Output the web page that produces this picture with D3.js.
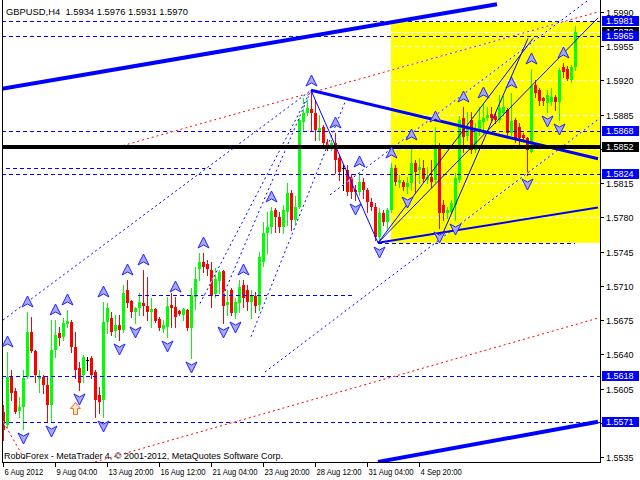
<!DOCTYPE html>
<html><head><meta charset="utf-8">
<script src="https://cdn.jsdelivr.net/npm/d3@7"></script>
<style>
body{margin:0;background:#fff;}
svg{display:block;}
text{font-family:"Liberation Sans",Arial,sans-serif;}
</style>
</head><body>
<svg id="chart" width="640" height="480"></svg>
<script>
// ---------------- DATA ----------------
const symbolTitle = "GBPUSD,H4";
const lastBar = [1.5934, 1.5976, 1.5931, 1.5970];
const openP = [1.5581,1.5568,1.5618,1.5602,1.5582,1.5586,1.5617,1.5663,1.5643,1.5615,
1.5617,1.5609,1.5588,1.5644,1.5662,1.5658,1.5671,1.5673,1.5647,1.5626,
1.5619,1.5634,1.5636,1.5622,1.5598,1.5593,1.5673,1.5677,1.5664,1.5670,
1.5665,1.5706,1.5694,1.5683,1.5687,1.5692,1.5689,1.5683,1.5686,1.5676,
1.5666,1.5668,1.5690,1.5688,1.5684,1.5680,1.5685,1.5667,1.5699,1.5727,
1.5734,1.5732,1.5726,1.5702,1.5715,1.5725,1.5690,1.5706,1.5682,1.5692,
1.5711,1.5706,1.5693,1.5700,1.5690,1.5734,1.5764,1.5770,1.5788,1.5780,
1.5770,1.5785,1.5805,1.5777,1.5791,1.5878,1.5887,1.5891,1.5887,1.5867,
1.5872,1.5857,1.5853,1.5856,1.5841,1.5830,1.5828,1.5821,1.5808,1.5806,
1.5816,1.5808,1.5796,1.5791,1.5760,1.5784,1.5775,1.5788,1.5830,1.5815,
1.5816,1.5811,1.5815,1.5836,1.5828,1.5830,1.5818,1.5821,1.5818,1.5854,
1.5793,1.5784,1.5785,1.5793,1.5818,1.5882,1.5863,1.5880,1.5849,1.5869,
1.5878,1.5882,1.5886,1.5884,1.5880,1.5887,1.5890,1.5866,1.5880,1.5872,
1.5864,1.5861,1.5847,1.5915,1.5910,1.5902,1.5897,1.5898,1.5903,1.5898,
1.5934,1.5932,1.5920,1.5934];
const highP = [1.5588,1.5642,1.5624,1.5606,1.5596,1.5624,1.5683,1.5678,1.5644,1.5624,
1.5619,1.5617,1.5675,1.5675,1.5668,1.5677,1.5685,1.5675,1.5663,1.5632,
1.5639,1.5637,1.5638,1.5624,1.5607,1.5693,1.5692,1.5683,1.5680,1.5680,
1.5711,1.5716,1.5696,1.5688,1.5703,1.5726,1.5719,1.5698,1.5687,1.5678,
1.5675,1.5699,1.5703,1.5699,1.5685,1.5687,1.5686,1.5708,1.5729,1.5744,
1.5744,1.5736,1.5734,1.5728,1.5726,1.5726,1.5706,1.5708,1.5698,1.5716,
1.5716,1.5711,1.5706,1.5704,1.5745,1.5775,1.5785,1.5791,1.5790,1.5785,
1.5793,1.5815,1.5808,1.5802,1.5882,1.5902,1.5905,1.5909,1.5900,1.5885,
1.5874,1.5860,1.5859,1.5866,1.5844,1.5834,1.5834,1.5824,1.5813,1.5826,
1.5820,1.5810,1.5800,1.5795,1.5790,1.5788,1.5790,1.5836,1.5834,1.5823,
1.5818,1.5821,1.5854,1.5839,1.5841,1.5839,1.5832,1.5839,1.5872,1.5856,
1.5798,1.5791,1.5798,1.5825,1.5884,1.5893,1.5888,1.5888,1.5876,1.5893,
1.5897,1.5893,1.5893,1.5888,1.5905,1.5904,1.5892,1.5907,1.5882,1.5876,
1.5866,1.5862,1.5932,1.5920,1.5912,1.5903,1.5910,1.5912,1.5905,1.5933,
1.5938,1.5935,1.5936,1.5976];
const lowP = [1.5552,1.5565,1.5593,1.5580,1.5576,1.5564,1.5616,1.5642,1.5612,1.5601,
1.5600,1.5571,1.5571,1.5637,1.5650,1.5655,1.5668,1.5642,1.5616,1.5603,
1.5612,1.5624,1.5616,1.5576,1.5580,1.5576,1.5662,1.5660,1.5658,1.5655,
1.5663,1.5688,1.5678,1.5672,1.5680,1.5680,1.5675,1.5668,1.5673,1.5665,
1.5663,1.5658,1.5668,1.5668,1.5680,1.5675,1.5665,1.5636,1.5686,1.5716,
1.5724,1.5721,1.5688,1.5699,1.5703,1.5672,1.5680,1.5680,1.5677,1.5683,
1.5688,1.5685,1.5677,1.5683,1.5685,1.5730,1.5744,1.5764,1.5765,1.5765,
1.5764,1.5772,1.5767,1.5772,1.5790,1.5869,1.5885,1.5869,1.5859,1.5859,
1.5854,1.5849,1.5849,1.5825,1.5818,1.5808,1.5803,1.5800,1.5798,1.5803,
1.5800,1.5785,1.5788,1.5757,1.5754,1.5772,1.5769,1.5785,1.5813,1.5811,
1.5808,1.5805,1.5808,1.5805,1.5815,1.5816,1.5815,1.5811,1.5816,1.5769,
1.5777,1.5779,1.5784,1.5777,1.5816,1.5847,1.5859,1.5846,1.5847,1.5864,
1.5866,1.5880,1.5880,1.5876,1.5878,1.5885,1.5864,1.5864,1.5857,1.5852,
1.5859,1.5823,1.5847,1.5903,1.5895,1.5895,1.5888,1.5895,1.5890,1.5880,
1.5924,1.5920,1.5918,1.5931];
const closeP = [1.5563,1.5617,1.5600,1.5581,1.5586,1.5616,1.5663,1.5643,1.5619,1.5617,
1.5609,1.5588,1.5644,1.5660,1.5657,1.5672,1.5674,1.5647,1.5624,1.5611,
1.5637,1.5634,1.5619,1.5593,1.5591,1.5673,1.5687,1.5663,1.5670,1.5665,
1.5703,1.5692,1.5683,1.5687,1.5693,1.5689,1.5683,1.5686,1.5674,1.5667,
1.5670,1.5689,1.5687,1.5678,1.5681,1.5686,1.5667,1.5701,1.5717,1.5734,
1.5729,1.5727,1.5700,1.5717,1.5724,1.5689,1.5693,1.5682,1.5693,1.5709,
1.5698,1.5693,1.5701,1.5689,1.5739,1.5764,1.5770,1.5787,1.5780,1.5770,
1.5788,1.5805,1.5777,1.5791,1.5880,1.5887,1.5892,1.5887,1.5869,1.5871,
1.5856,1.5854,1.5856,1.5839,1.5826,1.5830,1.5806,1.5806,1.5806,1.5816,
1.5808,1.5796,1.5791,1.5760,1.5784,1.5775,1.5788,1.5830,1.5816,1.5818,
1.5811,1.5815,1.5836,1.5826,1.5832,1.5819,1.5821,1.5816,1.5852,1.5784,
1.5784,1.5788,1.5795,1.5820,1.5880,1.5862,1.5872,1.5849,1.5870,1.5880,
1.5882,1.5885,1.5882,1.5880,1.5892,1.5893,1.5866,1.5879,1.5861,1.5861,
1.5861,1.5849,1.5914,1.5907,1.5899,1.5899,1.5905,1.5903,1.5898,1.5931,
1.5929,1.5922,1.5934,1.5970];

const dateLabels = ["6 Aug 2012","9 Aug 04:00","13 Aug 20:00","16 Aug 12:00","21 Aug 04:00","23 Aug 20:00","28 Aug 12:00","31 Aug 04:00","4 Sep 20:00"];
const dateLabelBars = [0,13,26,39,52,65,78,91,104];
const priceTicks = [1.5990,1.5955,1.5920,1.5885,1.5850,1.5815,1.5780,1.5745,1.5710,1.5675,1.5640,1.5605,1.5570,1.5535];

const blueLevels = [1.5981,1.5965,1.5868,1.5824,1.5618,1.5571];
const blackLevel = 1.5852;
const bidPrice = 1.5970;
const upFractalBars = [1,6,13,16,25,31,35,43,50,60,67,77,83,89,97,102,108,115,120,127,132,140];
const downFractalBars = [5,12,19,25,29,33,41,47,55,58,88,94,101,109,113,131,136,139];
const signalArrow = [18, 1.5585];

// drawn objects, in (bar, price) coordinates
const zoneRect = [97, 150, 1.5754, 1.5980];
const thickLines = [[-1,1.5911,123.5,1.5998],[93.75,1.5530,148.75,1.5571]];
const fanLine = [77,1.5910,148.75,1.5840];
const mediumLine = [93.75,1.5754,148.75,1.5790];
const thinLines = [[77,1.5910,93.75,1.5754],[93.75,1.5754,132.5,1.5963],[110,1.5764,131.25,1.5963],[93.75,1.5754,148.75,1.5984]];
const redDotted = [[28.75,1.5852,148.75,1.5990],[23,1.5530,148.75,1.5677],[-0.5,1.5575,5.75,1.5530]];
const blueDotted = [[0,1.5675,77,1.5910],[55,1.5700,77,1.5910],[49.25,1.5692,77,1.5910],[62,1.5658,86,1.5903],
                    [65.5,1.5622,148.75,1.5880],[81.75,1.5803,146.25,1.6002]];
const shortLevels = [[1.5701,33.75,87.25],[1.5754,93.75,143],[1.5830,-1,52]];

// ---------------- CHART ----------------
const svg = d3.select("#chart");
const plotL = 2, plotR = 600, plotT = 0, plotB = 462;
const x = d3.scaleLinear().domain([0,143]).range([3,575]);
const y = d3.scaleLinear().domain([1.5535,1.5990]).range([457,12]);
const FONT = 9;

svg.append("rect").attr("width",640).attr("height",480).attr("fill","#fff");
svg.append("defs").append("clipPath").attr("id","plot")
  .append("rect").attr("x",plotL).attr("y",plotT).attr("width",plotR-plotL).attr("height",plotB-plotT);
const g = svg.append("g").attr("clip-path","url(#plot)");

// zone
g.append("rect")
  .attr("x",x(zoneRect[0])).attr("y",y(zoneRect[3]))
  .attr("width",x(zoneRect[1])-x(zoneRect[0]))
  .attr("height",y(zoneRect[2])-y(zoneRect[3]))
  .attr("fill","#ffff00");

// grid (white dashed) and bid line
g.selectAll(".grid").data(priceTicks).join("line")
  .attr("x1",plotL).attr("x2",plotR)
  .attr("y1",d=>Math.round(y(d))+0.5).attr("y2",d=>Math.round(y(d))+0.5)
  .attr("stroke","#fff").attr("stroke-dasharray","4,3");
g.append("line").attr("x1",plotL).attr("x2",plotR)
  .attr("y1",Math.round(y(bidPrice))+0.5).attr("y2",Math.round(y(bidPrice))+0.5)
  .attr("stroke","#fff");

// candles
const bars = d3.range(openP.length).map(i=>({i,o:openP[i],h:highP[i],l:lowP[i],c:closeP[i]}));
const colorOf = d => d.c>d.o ? "#00ff00" : (d.c<d.o ? "#ff0000" : "#000");
const cg = g.append("g");
cg.selectAll("line.wick").data(bars).join("line")
  .attr("x1",d=>Math.round(x(d.i))+0.5).attr("x2",d=>Math.round(x(d.i))+0.5)
  .attr("y1",d=>Math.round(y(d.h))).attr("y2",d=>Math.round(y(d.l))+1)
  .attr("stroke",colorOf);
cg.selectAll("rect.body").data(bars).join("rect")
  .attr("x",d=>Math.round(x(d.i))-1).attr("width",3)
  .attr("y",d=>Math.round(y(Math.max(d.o,d.c))))
  .attr("height",d=>Math.max(1,Math.round(y(Math.min(d.o,d.c)))-Math.round(y(Math.max(d.o,d.c)))))
  .attr("fill",colorOf);

// helpers
function seg(arr, stroke, width, dash){
  if(dash){ // gaps of dotted pens are painted with the window background (white)
    g.append("line").attr("x1",x(arr[0])).attr("y1",y(arr[1])).attr("x2",x(arr[2])).attr("y2",y(arr[3]))
     .attr("stroke","#fff").attr("stroke-width",width);
  }
  const l = g.append("line")
    .attr("x1",x(arr[0])).attr("y1",y(arr[1]))
    .attr("x2",x(arr[2])).attr("y2",y(arr[3]))
    .attr("stroke",stroke).attr("stroke-width",width);
  if(dash) l.attr("stroke-dasharray",dash);
  return l;
}

// level lines
blueLevels.forEach(p=>{
  g.append("line").attr("x1",plotL).attr("x2",plotR)
   .attr("y1",Math.round(y(p))+0.5).attr("y2",Math.round(y(p))+0.5)
   .attr("stroke","#0000ff").attr("stroke-dasharray","4,3");
});
shortLevels.forEach(s=>{
  g.append("line").attr("x1",x(s[1])).attr("x2",x(s[2]))
   .attr("y1",Math.round(y(s[0]))+0.5).attr("y2",Math.round(y(s[0]))+0.5)
   .attr("stroke","#0000ff").attr("stroke-dasharray","4,3");
});

redDotted.forEach(a=>seg(a,"#ff0000",1,"2,3"));
blueDotted.forEach(a=>seg(a,"#0000ff",1,"2,3"));
thinLines.forEach(a=>seg(a,"#0000ff",1));
seg(mediumLine,"#0000ff",2);
seg(fanLine,"#0000ff",3);
thickLines.forEach(a=>seg(a,"#0000ff",4));

g.append("line").attr("x1",plotL).attr("x2",plotR)
 .attr("y1",y(blackLevel)).attr("y2",y(blackLevel))
 .attr("stroke","#000").attr("stroke-width",4);

// fractal arrows
const upPath = "M0,-6 L5.5,5 L0,2 L-5.5,5 Z";
const downPath = "M0,6 L5.5,-5 L0,-2 L-5.5,-5 Z";
const fg = g.append("g");
fg.selectAll("path.up").data(upFractalBars).join("path")
  .attr("d",upPath)
  .attr("transform",i=>`translate(${Math.round(x(i))+0.5},${Math.round(y(highP[i]))-10})`)
  .attr("fill","#a8a8ff").attr("stroke","#2020ff").attr("stroke-width",1);
fg.selectAll("path.dn").data(downFractalBars).join("path")
  .attr("d",downPath)
  .attr("transform",i=>`translate(${Math.round(x(i))+0.5},${Math.round(y(lowP[i]))+9})`)
  .attr("fill","#a8a8ff").attr("stroke","#2020ff").attr("stroke-width",1);
g.append("path")
  .attr("d","M0,-6 L5,0 L2,0 L2,6 L-2,6 L-2,0 L-5,0 Z")
  .attr("transform",`translate(${Math.round(x(signalArrow[0]))+0.5},${Math.round(y(signalArrow[1]))+0.5})`)
  .attr("fill","#ffe4cc").attr("stroke","#ff6a20").attr("stroke-width",1);

// ---------------- AXES ----------------
svg.append("line").attr("x1",600.5).attr("x2",600.5).attr("y1",0).attr("y2",463).attr("stroke","#000");
svg.append("line").attr("x1",2).attr("x2",601).attr("y1",462.5).attr("y2",462.5).attr("stroke","#000");
svg.append("line").attr("x1",2.5).attr("x2",2.5).attr("y1",0).attr("y2",463).attr("stroke","#000");

const tagPrices = [blackLevel,bidPrice].concat(blueLevels);
const yAxis = svg.append("g");
priceTicks.forEach(p=>{
  const yy = Math.round(y(p))+0.5;
  yAxis.append("line").attr("x1",600).attr("x2",604).attr("y1",yy).attr("y2",yy).attr("stroke","#000");
  const hidden = tagPrices.some(t=>Math.abs(y(t)-y(p))<4);
  if(!hidden) yAxis.append("text").attr("x",606).attr("y",yy+3.5).attr("font-size",FONT).attr("fill","#000").text(p.toFixed(4));
});
function priceTag(p,bg){
  const yy = Math.round(y(p));
  svg.append("rect").attr("x",602).attr("y",yy-5).attr("width",37).attr("height",10).attr("fill",bg);
  svg.append("text").attr("x",606).attr("y",yy+3).attr("font-size",FONT).attr("fill","#fff").text(p.toFixed(4));
}
priceTag(blackLevel,"#000");
priceTag(bidPrice,"#000");
blueLevels.forEach(p=>priceTag(p,"#0000ff"));

dateLabelBars.forEach((b,k)=>{
  const xx = Math.round(x(b))+0.5;
  svg.append("line").attr("x1",xx).attr("x2",xx).attr("y1",462).attr("y2",467).attr("stroke","#000");
  const t = svg.append("text").attr("x",xx+1).attr("y",475).attr("font-size",FONT).attr("fill","#000").text(dateLabels[k]);
  const w = t.node().getComputedTextLength();
  t.attr("textLength",w*0.85).attr("lengthAdjust","spacingAndGlyphs");
});

svg.append("text").attr("x",6).attr("y",14.5).attr("font-size",9.4).attr("fill","#000")
  .attr("xml:space","preserve")
  .text(symbolTitle+"  "+lastBar.map(v=>v.toFixed(4)).join(" "));
svg.append("text").attr("x",4).attr("y",459).attr("font-size",FONT).attr("fill","#000")
  .attr("textLength",279).attr("lengthAdjust","spacingAndGlyphs")
  .text("RoboForex - MetaTrader 4, \u00a9 2001-2012, MetaQuotes Software Corp.");
</script>
</body></html>
